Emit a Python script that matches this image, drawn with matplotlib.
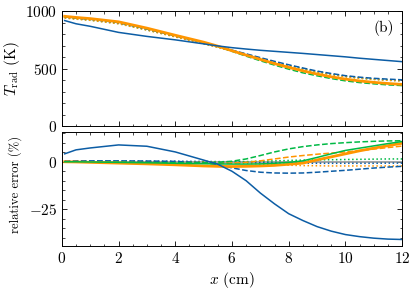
import matplotlib
matplotlib.use("Agg")
import matplotlib.pyplot as plt
from matplotlib.ticker import MultipleLocator

# science-like look: serif CM font, inward ticks on all sides
plt.rcParams['font.family'] = ['cmr10', 'DejaVu Serif']
plt.rcParams['mathtext.fontset'] = 'cm'
plt.rcParams['axes.formatter.use_mathtext'] = True
plt.rcParams['font.size'] = 11
plt.rcParams['axes.linewidth'] = 0.7
for ax_name in ('xtick', 'ytick'):
    plt.rcParams[ax_name + '.direction'] = 'in'
    plt.rcParams[ax_name + '.major.size'] = 3.5
    plt.rcParams[ax_name + '.minor.size'] = 1.8
    plt.rcParams[ax_name + '.major.width'] = 0.6
    plt.rcParams[ax_name + '.minor.width'] = 0.5
    plt.rcParams[ax_name + '.labelsize'] = 11
plt.rcParams['xtick.top'] = True
plt.rcParams['ytick.right'] = True

blue = '#0C5DA5'
green = '#00B945'
orange = '#FF9500'
gray = '#8c8c8c'

# x positions (cm)
x = [0.1, 0.5, 1, 2, 3, 4, 5, 5.5, 6, 6.5, 7, 7.5, 8, 8.5, 9, 9.5, 10, 10.5, 11, 11.5, 12]

# top panel: radiation temperature (K)
T_blue_solid = [918, 890, 868, 815, 780, 750, 715, 697, 682, 670, 659, 650, 641, 632, 622, 612, 602, 590, 580, 570, 560]
T_orange_solid = [955, 945, 935, 907, 852, 790, 730, 695, 655, 617, 580, 543, 510, 480, 452, 428, 408, 392, 380, 370, 362]
T_green_dashed = [952, 942, 932, 903, 848, 787, 727, 692, 650, 608, 568, 530, 495, 463, 437, 413, 393, 378, 367, 358, 352]
T_blue_dashed = [950, 940, 930, 900, 845, 785, 725, 695, 660, 628, 595, 563, 533, 505, 478, 457, 438, 425, 415, 408, 402]
T_blue_dotted = [945, 935, 925, 895, 840, 780, 720, 690, 657, 624, 591, 559, 528, 500, 474, 452, 434, 420, 410, 402, 397]
T_green_dotted = [943, 933, 922, 892, 837, 777, 717, 687, 654, 621, 588, 556, 525, 497, 471, 449, 431, 417, 407, 399, 394]
T_orange_dotted = [940, 930, 920, 890, 835, 775, 715, 685, 652, 619, 586, 554, 523, 495, 469, 447, 429, 415, 405, 397, 392]

# bottom panel: relative error (%)
E_blue_solid = [4.2, 6.3, 7.3, 8.9, 8.2, 5.2, 0.9, -1.3, -5.0, -10.0, -16.5, -22.2, -27.4, -31.0, -34.2, -36.6, -38.4, -39.5, -40.3, -40.8, -41.0]
E_orange_solid = [0.0, -0.1, -0.3, -0.7, -1.1, -1.6, -2.2, -2.4, -2.5, -2.4, -2.2, -1.9, -1.3, -0.7, 1.0, 2.6, 4.2, 5.8, 7.2, 8.5, 9.8]
E_green_solid = [0.0, 0.0, -0.1, -0.3, -0.5, -0.8, -1.0, -1.1, -1.2, -1.2, -1.1, -0.8, -0.3, 0.5, 2.3, 4.2, 6.0, 7.2, 8.4, 9.6, 10.7]
E_green_dashed = [0.0, 0.0, 0.0, -0.2, -0.4, -0.5, -0.5, -0.3, 0.3, 1.5, 3.3, 5.2, 6.8, 8.0, 8.9, 9.6, 10.1, 10.5, 10.8, 11.0, 11.1]
E_orange_dashed = [0.0, 0.0, -0.1, -0.3, -0.5, -0.7, -0.8, -0.9, -0.8, -0.3, 0.5, 1.5, 2.5, 3.3, 4.0, 4.6, 5.2, 5.9, 6.7, 7.5, 8.3]
E_blue_dashed = [0.4, 0.5, 0.5, 0.5, 0.4, 0.2, -0.5, -1.5, -3.2, -4.6, -5.5, -5.9, -6.0, -5.9, -5.5, -5.0, -4.5, -3.9, -3.3, -2.8, -2.4]
E_blue_dotted = [0.3, 0.3, 0.3, 0.3, 0.3, 0.3, 0.2, 0.1, 0.0, -0.2, -0.3, -0.5, -0.6, -0.7, -0.8, -0.8, -0.8, -0.8, -0.8, -0.7, -0.7]
E_green_dotted = [0.0, 0.0, 0.0, 0.0, 0.0, 0.0, 0.0, 0.0, 0.0, 0.1, 0.3, 0.5, 0.7, 0.9, 1.0, 1.1, 1.2, 1.3, 1.4, 1.5, 1.5]
E_orange_dotted = [0.0, 0.0, 0.0, 0.0, -0.1, -0.1, -0.2, -0.3, -0.5, -0.8, -1.2, -1.5, -1.8, -2.0, -2.1, -2.2, -2.2, -2.2, -2.2, -2.2, -2.2]
E_zero = [0.0] * len(x)

fig = plt.figure(figsize=(4.15, 2.93), dpi=100)
ax1 = fig.add_axes([0.149, 0.570, 0.820, 0.392])
ax2 = fig.add_axes([0.149, 0.160, 0.820, 0.390])

lw = 1.1
# top panel
ax1.plot(x, T_blue_dotted, color=blue, ls=':', lw=lw)
ax1.plot(x, T_green_dotted, color=green, ls=':', lw=lw)
ax1.plot(x, T_orange_dotted, color=orange, ls=':', lw=lw)
ax1.plot(x, T_blue_dashed, color=blue, ls='--', lw=lw)
ax1.plot(x, T_green_dashed, color=green, ls='--', lw=lw)
ax1.plot(x, T_orange_solid, color=orange, ls='-', lw=2.0)
ax1.plot(x, T_blue_solid, color=blue, ls='-', lw=lw)

# bottom panel
ax2.plot(x, E_zero, color=gray, ls='-', lw=lw)
ax2.plot(x, E_blue_dotted, color=blue, ls=':', lw=lw)
ax2.plot(x, E_green_dotted, color=green, ls=':', lw=lw)
ax2.plot(x, E_orange_dotted, color=orange, ls=':', lw=lw)
ax2.plot(x, E_blue_dashed, color=blue, ls='--', lw=lw)
ax2.plot(x, E_orange_dashed, color=orange, ls='--', lw=lw)
ax2.plot(x, E_green_dashed, color=green, ls='--', lw=lw)
ax2.plot(x, E_orange_solid, color=orange, ls='-', lw=2.0)
ax2.plot(x, E_green_solid, color=green, ls='-', lw=lw)
ax2.plot(x, E_blue_solid, color=blue, ls='-', lw=lw)

for ax in (ax1, ax2):
    ax.set_xlim(0, 12)
    ax.xaxis.set_major_locator(MultipleLocator(2))
    ax.xaxis.set_minor_locator(MultipleLocator(0.5))

ax1.set_ylim(0, 1000)
ax1.yaxis.set_major_locator(MultipleLocator(500))
ax1.yaxis.set_minor_locator(MultipleLocator(100))
ax1.tick_params(labelbottom=False)
ax1.set_ylabel(r'$T_{\mathrm{rad}}$ (K)', fontsize=11)
ax1.yaxis.set_label_coords(-0.118, 0.5)
ax1.text(0.975, 0.92, '(b)', transform=ax1.transAxes, ha='right', va='top', fontsize=11)

ax2.set_ylim(-44.5, 15.8)
ax2.yaxis.set_major_locator(MultipleLocator(25))
ax2.yaxis.set_minor_locator(MultipleLocator(5))
ax2.set_ylabel('relative error (%)', fontsize=9.2)
ax2.yaxis.set_label_coords(-0.118, 0.54)
ax2.set_xlabel(r'$x$ (cm)', fontsize=11, labelpad=3)

fig.savefig('out.png', dpi=100)
